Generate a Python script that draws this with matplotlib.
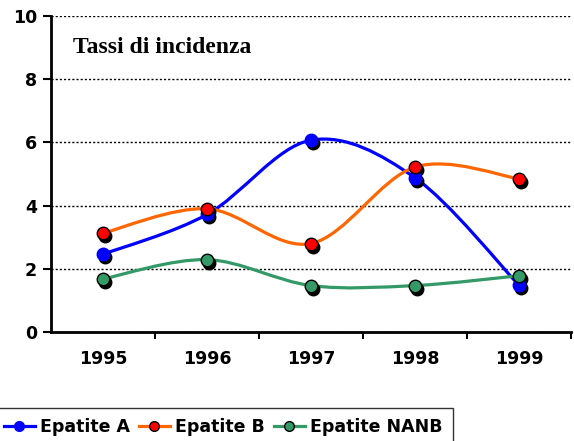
import matplotlib
matplotlib.use("Agg")
import matplotlib.pyplot as plt
import matplotlib.transforms as mtransforms
from matplotlib.path import Path
from matplotlib.patches import PathPatch
from matplotlib.lines import Line2D

years = ["1995", "1996", "1997", "1998", "1999"]
epatite_a = [2.46, 3.72, 6.07, 4.88, 1.48]
epatite_b = [3.13, 3.90, 2.80, 5.22, 4.85]
epatite_nanb = [1.68, 2.29, 1.47, 1.47, 1.78]

series = [
    ("Epatite A", epatite_a, "#0000FF", "#0000FF", "#0000FF"),
    ("Epatite B", epatite_b, "#FF6600", "#FF0000", "black"),
    ("Epatite NANB", epatite_nanb, "#339966", "#339966", "black"),
]


def smooth_path(xs, ys):
    # Excel-like smoothed line: Catmull-Rom turned into cubic Beziers
    pts = list(zip(xs, ys))
    n = len(pts)
    verts = [pts[0]]
    codes = [Path.MOVETO]
    for i in range(n - 1):
        p0 = pts[i - 1] if i > 0 else pts[i]
        p1 = pts[i]
        p2 = pts[i + 1]
        p3 = pts[i + 2] if i + 2 < n else pts[i + 1]
        c1 = (p1[0] + (p2[0] - p0[0]) / 6, p1[1] + (p2[1] - p0[1]) / 6)
        c2 = (p2[0] - (p3[0] - p1[0]) / 6, p2[1] - (p3[1] - p1[1]) / 6)
        verts += [c1, c2, p2]
        codes += [Path.CURVE4] * 3
    return Path(verts, codes)


fig = plt.figure(figsize=(5.74, 4.41), dpi=100)
ax = fig.add_axes([51 / 574, 1 - 332 / 441, 520 / 574, 316 / 441])

x = list(range(1, len(years) + 1))
shadow = mtransforms.offset_copy(ax.transData, fig=fig, x=2, y=-3, units="dots")

for name, vals, lc, fc, ec in series:
    ax.add_patch(PathPatch(smooth_path(x, vals), fill=False, edgecolor=lc,
                           lw=2.3, capstyle="round", joinstyle="round", zorder=3))
    ax.plot(x, vals, "o", ms=9, color="black", mec="black", transform=shadow, zorder=4)
    ax.plot(x, vals, "o", ms=9, color=fc, mec=ec, mew=1, zorder=5)

ax.set_xlim(0.5, 5.5)
ax.set_ylim(0, 10)
ax.set_yticks([0, 2, 4, 6, 8, 10])
ax.set_xticks([1.5, 2.5, 3.5, 4.5, 5.5])
ax.set_xticks(x, minor=True)
ax.set_xticklabels([])
ax.set_xticklabels(years, minor=True)
ax.tick_params(axis="x", which="major", length=5, width=1.5, direction="out")
ax.tick_params(axis="x", which="minor", length=0, pad=13)
ax.tick_params(axis="y", length=6, width=1.5, direction="out", pad=4)
for lab in ax.get_xticklabels(minor=True) + ax.get_yticklabels():
    lab.set_fontweight("bold")
    lab.set_fontsize(12.5)

ax.yaxis.grid(True, linestyle=(0, (1.5, 1.5)), color="black", lw=1)
ax.set_axisbelow(True)
for s in ["top", "right"]:
    ax.spines[s].set_visible(False)
for s in ["left", "bottom"]:
    ax.spines[s].set_linewidth(2)

ax.text(0.043, 0.9, "Tassi di incidenza", transform=ax.transAxes,
        family="Liberation Serif", fontweight="bold", fontsize=17, va="center")

handles = [Line2D([], [], color=lc, lw=2.3, marker="o", ms=7, mfc=fc, mec=ec)
           for name, vals, lc, fc, ec in series]
leg = fig.legend(handles, [s[0] for s in series], loc="upper left",
                 bbox_to_anchor=(-0.012, 1 - 408 / 441), ncol=3, frameon=True,
                 fancybox=False, prop={"weight": "bold", "size": 12.5},
                 handlelength=1.8, handletextpad=0.3, columnspacing=0.5,
                 borderpad=0.6, borderaxespad=0)
leg.get_frame().set_edgecolor("black")
leg.get_frame().set_linewidth(1)

fig.savefig("out.png", dpi=100)
